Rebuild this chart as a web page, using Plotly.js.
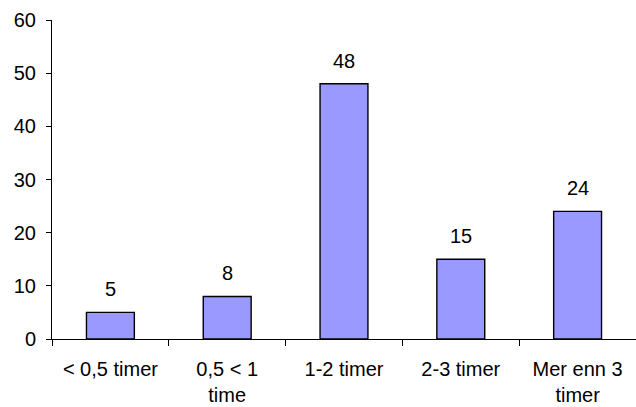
<!DOCTYPE html>
<html>
<head>
<meta charset="utf-8">
<script src="https://cdn.plot.ly/plotly-3.0.1.min.js"></script>
<style>html,body{margin:0;padding:0;background:#fff;}#chart{width:636px;height:407px;}</style>
</head>
<body>
<div id="chart"></div>
<script>
const categories = ["< 0,5 timer", "0,5 < 1<br>time", "1-2 timer", "2-3 timer", "Mer enn 3<br>timer"];
const values = [5, 8, 48, 15, 24];
const yTicks = [0, 10, 20, 30, 40, 50, 60];

const font = {family: "Liberation Sans, Arial, sans-serif", size: 20, color: "#000"};

const trace = {
  type: "bar",
  x: categories,
  y: values,
  marker: {color: "#9999FF", line: {color: "#000", width: 1.4}},
  hoverinfo: "none"
};

const annotations = categories.map((c, i) => ({
  x: c, y: values[i], xref: "x", yref: "y",
  text: String(values[i]), showarrow: false,
  yanchor: "bottom", yshift: 10, font: font
}));

const layout = {
  width: 636, height: 407,
  margin: {l: 52, r: 0, t: 20, b: 68},
  paper_bgcolor: "#fff", plot_bgcolor: "#fff",
  showlegend: false,
  bargap: 0.59,
  font: font,
  xaxis: {
    type: "category",
    showline: true, linecolor: "#000", linewidth: 1,
    ticks: "outside", ticklen: 6, tickcolor: "#000", tickwidth: 1,
    tickson: "boundaries",
    ticklabelstandoff: 12,
    showgrid: false, zeroline: false,
    tickfont: font,
    fixedrange: true
  },
  yaxis: {
    range: [0, 60],
    tickvals: yTicks,
    showline: true, linecolor: "#000", linewidth: 1,
    ticks: "outside", ticklen: 5, tickcolor: "#000", tickwidth: 1,
    ticklabelstandoff: 6,
    showgrid: false, zeroline: false,
    tickfont: font,
    fixedrange: true
  },
  annotations: annotations
};

Plotly.newPlot("chart", [trace], layout, {displayModeBar: false, staticPlot: true});
</script>
</body>
</html>
